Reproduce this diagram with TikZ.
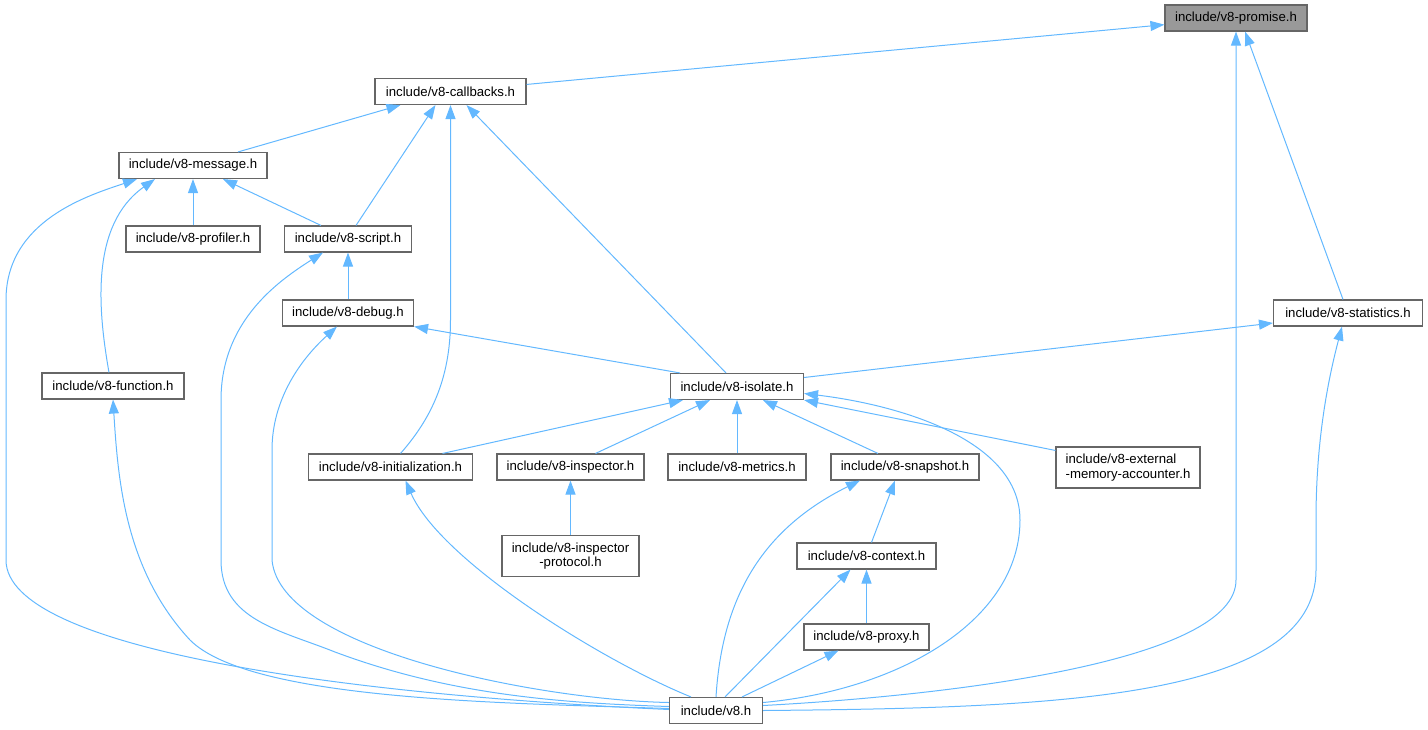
\documentclass[tikz,border=0pt]{standalone}
\usepackage{fontspec}
\setmainfont{Liberation Sans}
\usetikzlibrary{arrows.meta}
\definecolor{edgeblue}{HTML}{63B8FF}
\definecolor{boxgray}{HTML}{666666}
\definecolor{curfill}{HTML}{999999}
\begin{document}
\begin{tikzpicture}[x=1pt,y=-1pt,
  box/.style={draw=boxgray, line width=1.1pt, fill=white, minimum height=26pt, inner sep=0pt, font=\fontsize{13.2}{14.5}\selectfont},
  edge/.style={draw=edgeblue, line width=1pt, -{Triangle[length=14pt,width=10pt]}},
]
\useasboundingbox (0,0) rectangle (1428,729);
\node[box, fill=curfill, minimum width=142pt] (promise) at (1236,18) {include/v8-promise.h};
\node[box, minimum width=151pt] (callbacks) at (450.5,91.5) {include/v8-callbacks.h};
\node[box, minimum width=148pt] (message) at (193,165.5) {include/v8-message.h};
\node[box, minimum width=134pt] (profiler) at (193,239) {include/v8-profiler.h};
\node[box, minimum width=127pt] (script) at (348,239) {include/v8-script.h};
\node[box, minimum width=131pt] (debug) at (348,313) {include/v8-debug.h};
\node[box, minimum width=142pt] (function) at (113,386) {include/v8-function.h};
\node[box, minimum width=149pt] (statistics) at (1348,313) {include/v8-statistics.h};
\node[box, minimum width=133pt] (isolate) at (737,386.5) {include/v8-isolate.h};
\node[box, minimum width=164pt] (init) at (390.5,467) {include/v8-initialization.h};
\node[box, minimum width=147pt] (inspector) at (570.5,467) {include/v8-inspector.h};
\node[box, minimum width=138pt] (metrics) at (737,467) {include/v8-metrics.h};
\node[box, minimum width=148pt] (snapshot) at (905,467) {include/v8-snapshot.h};
\node[box, minimum width=144pt, minimum height=41pt, align=left] (external) at (1128,467.5) {include/v8-external\\-memory-accounter.h};
\node[box, minimum width=137pt, minimum height=41pt, align=center] (protocol) at (570.5,556) {include/v8-inspector\\-protocol.h};
\node[box, minimum width=139pt] (context) at (866.5,556) {include/v8-context.h};
\node[box, minimum width=125pt] (proxy) at (866.5,637) {include/v8-proxy.h};
\node[box, minimum width=93pt] (v8) at (716,710.5) {include/v8.h};

\draw[edge] (callbacks) -- (promise);
\draw[edge] ([yshift=5pt]v8.east) .. controls (960,695) and (1236,660) .. (1236,580) -- (promise.south);
\draw[edge] ([xshift=-5pt]statistics.north) -- ([xshift=9pt]promise.south);
\draw[edge] ([xshift=45pt]message.north) -- ([xshift=-50pt]callbacks.south);
\draw[edge] ([xshift=8pt]script.north) -- ([xshift=-15pt]callbacks.south);
\draw[edge] ([xshift=10pt]init.north) .. controls (430,420) and (450.5,380) .. (450.5,320) -- (callbacks.south);
\draw[edge] ([xshift=-11pt]isolate.north) -- ([xshift=16pt]callbacks.south);
\draw[edge] ([xshift=-4pt]function.north) .. controls (98,310) and (90,225) .. ([xshift=-38pt]message.south);
\draw[edge] ([yshift=1pt]v8.west) .. controls (350,695) and (6,650) .. (6,560) -- (6,300) .. controls (6,220) and (90,195) .. ([xshift=-56pt]message.south);
\draw[edge] (profiler) -- (message);
\draw[edge] ([xshift=-27pt]script.north) -- ([xshift=30pt]message.south);
\draw[edge] (debug) -- (script);
\draw[edge] ([yshift=4pt]v8.west) .. controls (560,703) and (450,695) .. (335,652) .. controls (280,630) and (221,620) .. (221,560) -- (221,400) .. controls (221,320) and (280,280) .. ([xshift=-25pt]script.south);
\draw[edge] ([xshift=-57pt]isolate.north) -- (debug.south east);
\draw[edge] ([yshift=8pt]v8.west) .. controls (540,700) and (280,650) .. (272,560) -- (272,450) .. controls (272,400) and (300,360) .. ([xshift=-11pt]debug.south);
\draw[edge] ([yshift=9pt]isolate.east) -- ([yshift=-10pt]statistics.west);
\draw[edge] (v8.east) .. controls (1050,708) and (1316,700) .. (1316,570) -- (1316,520) .. controls (1316,440) and (1328,380) .. ([xshift=-6pt]statistics.south);
\draw[edge] ([yshift=2pt]v8.west) .. controls (500,703) and (250,700) .. (190,640) .. controls (125,570) and (118,480) .. (function.south);
\draw[edge] ([xshift=52pt]init.north) -- ([xshift=-54pt]isolate.south);
\draw[edge] ([xshift=25pt]inspector.north) -- ([xshift=-27pt]isolate.south);
\draw[edge] (metrics) -- (isolate);
\draw[edge] ([xshift=-27pt]snapshot.north) -- ([xshift=26pt]isolate.south);
\draw[edge] ([yshift=-4pt]external.north west) -- (isolate.south east);
\draw[edge] ([yshift=8pt]v8.east) .. controls (900,690) and (1020,620) .. (1020,520) .. controls (1020,440) and (900,405) .. ([yshift=-7pt]isolate.east);
\draw[edge] ([xshift=-25pt]v8.north) .. controls (600,660) and (440,560) .. ([xshift=15pt]init.south);
\draw[edge] (protocol) -- (inspector);
\draw[edge] (v8.north) .. controls (722,600) and (760,530) .. ([xshift=-45pt]snapshot.south);
\draw[edge] ([xshift=5pt]context.north) -- ([xshift=-10pt]snapshot.south);
\draw[edge] ([xshift=9pt]v8.north) -- ([xshift=-16pt]context.south);
\draw[edge] (proxy) -- (context);
\draw[edge] ([xshift=26pt]v8.north) -- ([xshift=-28pt]proxy.south);
\end{tikzpicture}
\end{document}
